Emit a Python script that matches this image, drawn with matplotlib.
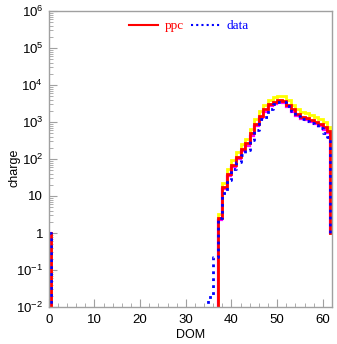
import matplotlib
matplotlib.use("Agg")
import matplotlib.pyplot as plt
from matplotlib.lines import Line2D
from matplotlib.ticker import FixedLocator, FixedFormatter, MultipleLocator, LogLocator, NullFormatter

plt.rcParams['font.family'] = ['Liberation Sans', 'DejaVu Sans']
plt.rcParams['mathtext.fontset'] = 'custom'
plt.rcParams['mathtext.rm'] = 'Liberation Sans'
plt.rcParams['mathtext.it'] = 'Liberation Sans'

# DOM step edges (steps-post): spike at DOM 0, then bins 37..61
main_edges = list(range(37, 62)) + [61.6]

ppc_main = [2.5, 17, 39, 69, 112, 186, 264, 490, 890, 1480, 2190, 3020, 3550,
            3900, 3800, 2900, 2190, 1620, 1380, 1260, 1120, 1020, 870, 720, 560, 1]
ppc_hi = [3.3, 23, 53, 93, 150, 250, 355, 660, 1200, 2000, 2950, 4050, 4750,
          5200, 5100, 3900, 2950, 2200, 1870, 1700, 1520, 1380, 1180, 970, 740, 1]
ppc_lo = [2.2, 15, 34, 60, 97, 162, 230, 425, 775, 1290, 1900, 2630, 3090,
          3390, 3300, 2520, 1900, 1410, 1200, 1100, 975, 890, 760, 625, 490, 1]
data_main = [2.5, 11.8, 27, 53, 85, 128, 175, 325, 600, 1170, 1390, 2190, 3080,
             3550, 3500, 2700, 2040, 1450, 1170, 1080, 950, 830, 680, 490, 400, 1]

spike_x = [0, 0.4]
spike_y = [1, 1e-4]
data_pre_x = [34.9, 35.9]
data_pre_y = [0.019, 0.22]

x_ticks = [0, 10, 20, 30, 40, 50, 60]
y_ticks = [1e-2, 1e-1, 1, 10, 1e2, 1e3, 1e4, 1e5, 1e6]
y_labels = [r'$10^{-2}$', r'$10^{-1}$', '1', '10', r'$10^{2}$', r'$10^{3}$',
            r'$10^{4}$', r'$10^{5}$', r'$10^{6}$']

fig = plt.figure(figsize=(3.37, 3.44), dpi=100)
ax = fig.add_axes([48.7 / 337, (344 - 307) / 344, (332 - 48.7) / 337, (307 - 11) / 344])

kw = dict(drawstyle='steps-post', solid_joinstyle='miter')
ax.plot(spike_x + main_edges, spike_y[:1] + [1e-4] + ppc_hi, color='#ffff00', lw=2.0, **kw)
ax.plot(spike_x + main_edges, spike_y + ppc_lo, color='#ff00ff', lw=1.6, **kw)
ax.plot(spike_x + main_edges, spike_y + ppc_main, color='#ff0000', lw=2.0, **kw)
ax.plot(spike_x + data_pre_x + main_edges, spike_y + data_pre_y + data_main,
        color='#0000ff', lw=2.0, ls=(0, (1, 1.5)), **kw)

ax.set_yscale('log')
ax.set_xlim(0, 62)
ax.set_ylim(1e-2, 1e6)

ax.xaxis.set_major_locator(FixedLocator(x_ticks))
ax.xaxis.set_minor_locator(MultipleLocator(2))
ax.yaxis.set_major_locator(FixedLocator(y_ticks))
ax.yaxis.set_major_formatter(FixedFormatter(y_labels))
ax.yaxis.set_minor_locator(LogLocator(base=10, subs=range(2, 10), numticks=20))
ax.yaxis.set_minor_formatter(NullFormatter())

for s in ax.spines.values():
    s.set_color('#a0a0a0')
    s.set_linewidth(1.0)
ax.tick_params(which='both', direction='in', colors='#a0a0a0', labelcolor='black',
               top=False, right=False, labelsize=9.5)
ax.tick_params(which='major', length=6)
ax.tick_params(which='minor', length=3)
ax.tick_params(axis='x', pad=5)
ax.tick_params(axis='y', pad=4)

ax.set_xlabel('DOM', fontsize=9, labelpad=2)
ax.set_ylabel('charge', fontsize=9)
ax.yaxis.set_label_coords(-0.10, 0.47)

handles = [Line2D([], [], color='#ff0000', lw=1.5),
           Line2D([], [], color='#0000ff', lw=1.5, ls=(0, (1, 1.5)))]
leg = ax.legend(handles, ['ppc', 'data'], loc='upper center', ncol=2, frameon=False,
                prop={'family': 'Liberation Serif', 'size': 9.5}, handlelength=2.2,
                columnspacing=0.5, handletextpad=0.5, bbox_to_anchor=(0.495, 1.01))
for t, c in zip(leg.get_texts(), ['#ff0000', '#0000ff']):
    t.set_color(c)

fig.savefig('out.png', dpi=100)
